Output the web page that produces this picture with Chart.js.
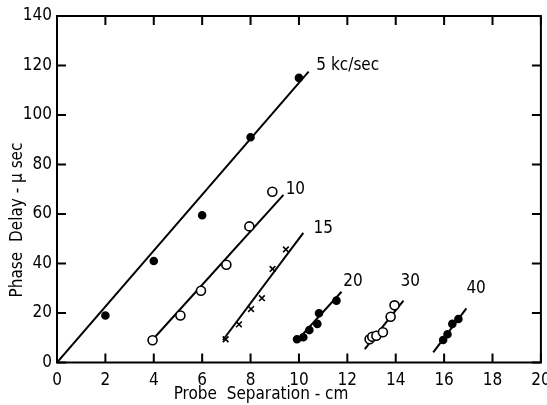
<!DOCTYPE html>
<html>
<head>
<meta charset="utf-8">
<script src="https://cdn.jsdelivr.net/npm/chart.js@4.4.0/dist/chart.umd.min.js"></script>
<style>
  html, body { margin: 0; padding: 0; background: #fff; }
  #wrap { width: 547px; height: 405px; }
</style>
</head>
<body>
<div id="wrap"><canvas id="chart" width="547" height="405"></canvas></div>
<script>
// Tick labels.
const xTicks = [0, 2, 4, 6, 8, 10, 12, 14, 16, 18, 20];
const yTicks = [0, 20, 40, 60, 80, 100, 120, 140];

// Measured points, probe separation (cm) vs phase delay (usec).
const kc5X = [2, 4, 6, 8, 10];
const kc5Y = [19, 41, 59.5, 91, 115];
const kc10X = [3.95, 5.1, 5.95, 7.0, 7.95, 8.9];
const kc10Y = [9, 19, 29, 39.5, 55, 69];
const kc15X = [6.97, 7.52, 8.02, 8.47, 8.91, 9.46];
const kc15Y = [9.4, 15.4, 21.6, 26, 37.8, 45.7];
const kc20X = [9.92, 10.18, 10.43, 10.76, 10.83, 11.55];
const kc20Y = [9.4, 10.2, 13.1, 15.6, 19.9, 25];
const kc30X = [12.92, 13.03, 13.2, 13.47, 13.79, 13.95];
const kc30Y = [9.4, 10.4, 10.8, 12.2, 18.5, 23.1];
const kc40X = [15.96, 16.14, 16.34, 16.59];
const kc40Y = [9.1, 11.4, 15.6, 17.6];

// Fitted lines, two end points each.
const fit5X = [0, 10.4];
const fit5Y = [0, 117.5];
const fit10X = [3.95, 9.36];
const fit10Y = [9.2, 67.7];
const fit15X = [6.86, 10.18];
const fit15Y = [9.1, 52.4];
const fit20X = [9.84, 11.76];
const fit20Y = [8, 28.6];
const fit30X = [12.72, 14.32];
const fit30Y = [5.4, 25];
const fit40X = [15.55, 16.92];
const fit40Y = [4.1, 21.9];

// Curve labels.
const curveLabels = ['5 kc/sec', '10', '15', '20', '30', '40'];
const curveLabelX = [10.72, 9.45, 10.6, 11.83, 14.2, 16.92];
const curveLabelY = [120, 69.7, 54.3, 32.5, 32.5, 29.7];

const FONT = "'DejaVu Sans', sans-serif";

const toXY = (xs, ys) => xs.map((x, i) => ({x, y: ys[i]}));

const pointSet = (xs, ys, style, filled) => ({
  type: 'scatter',
  data: toXY(xs, ys),
  pointStyle: style,
  pointRadius: style === 'crossRot' ? 4 : (filled ? 3.5 : 4.5),
  pointBorderWidth: 1.6,
  borderColor: '#000',
  backgroundColor: filled ? '#000' : '#fff',
  showLine: false,
  order: 1,
});

const lineSet = (xs, ys) => ({
  type: 'line',
  data: toXY(xs, ys),
  borderColor: '#000',
  borderWidth: 2,
  pointRadius: 0,
  showLine: true,
  fill: false,
  order: 2,
});

// Frame with inward ticks on all four sides, titles and curve labels.
const framePlugin = {
  id: 'frame',
  afterDraw(chart) {
    const {ctx, chartArea: a, scales: {x, y}} = chart;
    ctx.save();
    ctx.strokeStyle = '#000';
    ctx.lineWidth = 2;
    ctx.strokeRect(a.left, a.top, a.right - a.left, a.bottom - a.top);
    ctx.beginPath();
    const len = 9;
    xTicks.forEach(v => {
      const px = x.getPixelForValue(v);
      ctx.moveTo(px, a.bottom); ctx.lineTo(px, a.bottom - len);
      ctx.moveTo(px, a.top); ctx.lineTo(px, a.top + len);
    });
    yTicks.forEach(v => {
      const py = y.getPixelForValue(v);
      ctx.moveTo(a.left, py); ctx.lineTo(a.left + len, py);
      ctx.moveTo(a.right, py); ctx.lineTo(a.right - len, py);
    });
    ctx.stroke();

    ctx.fillStyle = '#000';
    ctx.font = 'condensed 17px ' + FONT;
    ctx.textBaseline = 'middle';
    ctx.textAlign = 'left';
    curveLabels.forEach((t, i) => {
      ctx.fillText(t, x.getPixelForValue(curveLabelX[i]), y.getPixelForValue(curveLabelY[i]));
    });

    // Axis titles.
    ctx.textAlign = 'center';
    ctx.font = 'condensed 17px ' + FONT;
    ctx.fillText('Probe  Separation - cm', 261, 395);
    ctx.translate(18, 220);
    ctx.rotate(-Math.PI / 2);
    ctx.fillText('Phase  Delay - \u03bc sec', 0, 0);
    ctx.restore();
  }
};

const ctx = document.getElementById('chart').getContext('2d');
new Chart(ctx, {
  data: {
    datasets: [
      lineSet(fit5X, fit5Y),
      lineSet(fit10X, fit10Y),
      lineSet(fit15X, fit15Y),
      lineSet(fit20X, fit20Y),
      lineSet(fit30X, fit30Y),
      lineSet(fit40X, fit40Y),
      pointSet(kc5X, kc5Y, 'circle', true),
      pointSet(kc10X, kc10Y, 'circle', false),
      pointSet(kc15X, kc15Y, 'crossRot', false),
      pointSet(kc20X, kc20Y, 'circle', true),
      pointSet(kc30X, kc30Y, 'circle', false),
      pointSet(kc40X, kc40Y, 'circle', true),
    ],
  },
  options: {
    responsive: false,
    animation: false,
    layout: {
      padding: {top: 16, right: 3, left: 0, bottom: 0},
    },
    plugins: {
      legend: {display: false},
      tooltip: {enabled: false},
    },
    scales: {
      x: {
        type: 'linear',
        min: 0,
        max: 20,
        afterBuildTicks: s => { s.ticks = xTicks.map(value => ({value})); },
        afterFit: s => { s.height = 42.5; s.paddingRight = 0; s.paddingLeft = 0; },
        grid: {display: false, drawTicks: false, tickLength: 0},
        border: {display: false},
        ticks: {
          color: '#000',
          padding: 8,
          maxRotation: 0,
          font: {family: FONT, size: 17, weight: 'condensed'},
        },
      },
      y: {
        type: 'linear',
        min: 0,
        max: 140,
        afterBuildTicks: s => { s.ticks = yTicks.map(value => ({value})); },
        afterFit: s => { s.width = 57; s.paddingTop = 0; s.paddingBottom = 0; },
        grid: {display: false, drawTicks: false, tickLength: 0},
        border: {display: false},
        ticks: {
          color: '#000',
          padding: 5,
          font: {family: FONT, size: 17, weight: 'condensed'},
        },
      },
    },
  },
  plugins: [framePlugin],
});
</script>
</body>
</html>
